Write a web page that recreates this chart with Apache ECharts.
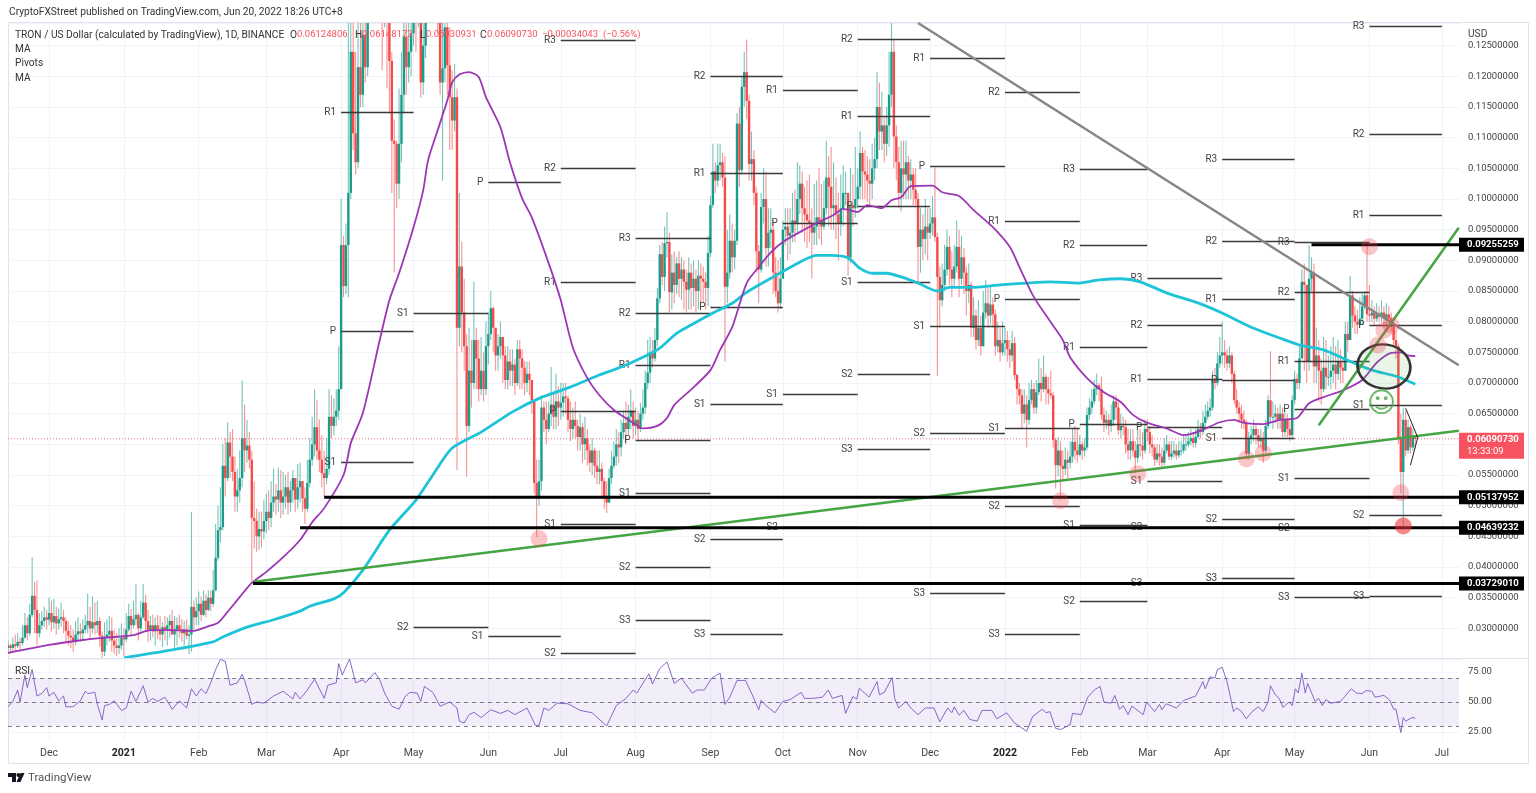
<!DOCTYPE html>
<html><head><meta charset="utf-8">
<style>html,body{margin:0;padding:0;background:#fff}#c{width:1536px;height:793px}</style>
<script src="https://cdn.jsdelivr.net/npm/echarts@6/dist/echarts.min.js"></script>
</head><body><div id="c"></div>
<script>
// Prices in units of 0.0001; one row per calendar month, Nov 14 2020 .. Jun 20 2022
const firstOpen = 268;
const closesByMonth = [
[272,268,274,271,278,276,285,305,292,322,353,330,292,305,312,318,314],
[325,310,320,308,315,318,312,296,288,285,278,290,295,292,298,305,312,300,310,305,312,288,262,285,290,296,280,272,268,272,285],
[282,298,320,305,315,322,300,318,342,312,298,305,295,305,298,290,302,298,305,312,290,298,305,298,292,298,288,290,335,318,328],
[340,322,345,330,350,340,362,415,460,465,565,545,603,580,555,515,525,545,610,590,598,575,480,475,450,462,458,475],
[490,480,505,515,510,525,505,515,530,505,525,545,510,530,540,512,495,537,575,600,628,590,575,553,545,560,645,630,645,655,690],
[925,858,925,1010,1240,1107,1060,1215,1170,1268,1215,1330,1400,1450,1520,1580,1480,1350,1420,1340,1225,1095,1090,1025,1090,1170,1265,1215,1240,1270],
[1350,1300,1400,1190,1250,1340,1420,1480,1460,1400,1290,1190,1213,1280,1218,1166,1128,1166,790,890,815,760,630,720,700,770,740,690,720,690,760],
[780,822,790,745,760,775,745,705,735,720,730,700,755,740,725,700,715,705,672,537,512,540,660,640,625,650,665,645,670,660],
[668,678,675,640,625,640,630,612,628,600,610,590,570,590,565,555,560,540,515,505,545,565,580,600,595,620,635,625,645,655,630],
[640,625,650,660,700,717,750,740,770,838,910,873,928,930,848,880,860,895,870,885,865,852,880,855,870,850,875,870,865,855,912],
[990,1045,1030,1055,1060,1035,857,880,932,905,932,1123,1047,1183,1207,1160,1057,1065,1010,915,885,987,1000,920,945,950,880,850,830,870],
[950,955,940,945,965,960,1000,1025,985,975,965,960,945,955,970,965,955,985,1035,1020,985,990,975,960,985,1010,1010,905,990,985,1000],
[1020,1075,1045,1040,1030,1025,1050,1065,1150,1110,1120,1090,1120,1170,1240,1102,1060,1010,1050,1040,1060,1030,1040,1015,1000,922,950,935,955,945],
[960,970,938,873,835,860,885,922,885,870,890,922,870,905,880,850,860,790,810,770,790,760,815,830,810,828,812,760,770,750,765],
[770,755,745,765,713,690,680,650,665,640,672,690,660,685,700,690,710,690,683,680,607,566,590,565,560,575,570,580,604,590,583],
[600,590,595,648,660,670,690,696,690,648,635,640,630,640,670,660,623,630,628,600,590,605,590,578,600,598,590,625],
[620,600,595,575,585,580,570,590,600,580,585,590,582,590,590,600,600,605,610,602,612,625,620,635,645,655,660,705,700,732,745],
[750,745,732,745,715,672,660,650,640,635,585,610,615,625,615,605,610,590,630,672,645,645,650,640,650,620,640,625,615,672],
[707,700,740,865,860,735,870,880,727,745,720,690,725,710,710,720,730,715,735,725,720,780,770,843,810,800,795,805,825,843,812],
[810,815,805,812,808,815,805,812,805,792,770,760,610,555,640,590,628,595,612.48,609.07]
];
const highsByMonth = [
[280,275,285,290,292,285,305,325,318,340,416,375,378,325,328,335,330],
[350,345,348,335,332,342,330,318,312,305,298,312,318,308,315,322,357,335,352,342,345,318,295,310,315,320,318,298,292,300,308],
[300,325,340,332,345,372,325,345,372,355,330,320,322,318,322,320,310,320,318,322,330,320,318,322,315,312,315,305,490,345,350],
[360,352,362,355,362,362,395,470,500,530,600,610,636,620,625,580,560,590,704,665,640,620,590,540,495,490,490,510],
[520,525,540,560,535,562,558,555,550,555,540,558,545,568,570,535,530,575,610,645,690,672,640,615,590,610,690,680,675,690,760],
[1000,940,960,1320,1400,1290,1240,1300,1290,1340,1300,1420,1480,1540,1600,1650,1600,1500,1500,1450,1380,1240,1130,1095,1180,1240,1320,1300,1310,1400],
[1450,1400,1460,1330,1340,1420,1500,1560,1540,1500,1420,1310,1290,1340,1320,1280,1210,1220,1180,1010,930,870,780,790,770,865,790,770,775,750,800],
[815,850,825,790,780,800,775,760,760,755,755,740,770,770,755,735,735,735,690,672,575,575,680,670,670,670,726,685,715,695],
[700,700,700,680,670,660,670,640,650,635,645,625,600,610,595,590,590,570,545,540,560,590,605,625,620,640,655,670,665,690,670],
[660,655,668,690,720,770,775,770,790,855,925,930,955,979,945,910,915,905,915,905,900,885,905,895,900,885,900,895,890,880,940],
[1005,1090,1060,1090,1090,1075,1070,950,975,960,950,1140,1150,1200,1240,1260,1170,1110,1080,1020,925,1010,1050,1045,985,985,965,905,900,905],
[965,985,985,985,1010,1015,1060,1055,1045,1020,1030,1040,985,1025,1030,1050,1025,1030,1095,1070,1085,1060,1035,1010,1040,1055,1045,1010,1050,1040,1085],
[1050,1110,1085,1080,1070,1065,1090,1100,1207,1190,1175,1135,1150,1240,1295,1260,1120,1085,1095,1095,1095,1070,1065,1050,1050,1010,985,975,1000,985],
[985,1005,1050,945,890,895,925,950,940,915,925,965,950,940,920,890,895,865,840,820,835,810,850,868,855,860,840,820,800,790,800],
[790,785,770,785,775,715,700,690,690,680,700,705,700,705,740,725,745,715,710,720,685,610,612,605,590,595,590,605,625,630,625],
[615,605,610,660,675,690,705,715,700,710,660,655,650,665,680,680,670,650,645,640,625,625,625,605,625,625,620,640],
[640,630,615,600,600,600,595,610,615,605,605,605,600,605,605,615,615,620,625,620,625,640,635,655,665,670,675,720,725,750,775],
[800,770,755,760,750,720,690,670,665,655,640,620,630,640,635,625,625,620,640,680,752,670,665,660,665,660,655,650,640,680],
[720,715,760,885,895,860,925,905,895,790,770,740,775,770,745,760,775,760,770,755,740,800,800,875,850,825,820,840,845,850,928],
[860,835,825,830,825,835,825,830,825,815,800,785,765,650,660,655,640,632,625,614.82]
];
const lowsByMonth = [
[262,258,262,262,268,265,272,282,280,288,318,292,272,285,298,302,298],
[305,295,300,290,298,302,292,278,272,268,262,272,280,278,280,292,292,282,292,290,292,270,240,255,272,278,262,258,255,258,265],
[255,278,295,288,300,305,280,295,315,295,278,280,285,272,282,280,270,280,272,285,292,265,272,285,278,272,282,258,262,298,305],
[305,312,320,318,328,328,335,360,410,440,460,515,540,545,540,490,490,505,530,555,570,560,374,430,425,428,432,445],
[455,460,465,490,485,490,480,485,495,485,490,505,490,495,505,490,470,490,530,565,580,575,555,530,513,535,550,610,615,630,640],
[690,840,845,840,1000,1080,1040,1050,1150,1150,1190,1200,1320,1380,1430,1500,1350,1210,1280,1180,1140,1010,880,985,1000,1060,1140,1170,1190,1200],
[1250,1240,1280,1165,1170,1230,1320,1400,1380,1330,1270,1170,1030,1190,1170,1080,1080,1110,558,760,750,720,547,620,660,690,690,670,680,670,680],
[730,770,750,720,720,740,700,690,690,695,695,680,695,690,690,680,685,680,650,520,449,500,525,620,600,620,630,625,625,630],
[640,645,650,620,605,610,610,590,590,570,575,565,555,550,545,535,535,510,495,488,505,535,560,565,570,580,610,600,615,625,610],
[615,605,620,640,650,690,700,725,735,760,830,860,850,905,815,820,830,845,840,835,820,815,820,820,825,815,820,830,830,820,825],
[905,985,1010,1020,1030,1020,735,830,870,880,885,925,1020,1040,1150,1130,1030,1030,990,880,830,880,960,890,890,920,845,840,815,820],
[870,925,900,910,930,930,945,975,945,930,920,930,870,925,925,935,925,950,975,955,950,950,935,900,940,955,990,875,895,955,970],
[985,1000,1000,1000,995,990,1000,1030,1050,1080,1080,1060,1070,1085,1150,1050,1030,985,980,1000,1000,1000,1000,990,990,860,880,900,910,900],
[935,940,930,712,790,825,850,875,860,840,855,880,840,860,845,810,830,775,775,755,760,745,760,805,790,795,790,745,750,735,745],
[745,735,725,735,705,665,665,625,635,595,632,665,650,650,680,670,685,665,665,675,595,528,548,510,540,550,545,560,570,575,570],
[580,575,580,590,640,650,665,680,670,640,620,625,615,620,630,640,615,610,615,585,575,575,580,553,570,580,575,585],
[605,585,580,565,570,565,560,565,585,575,575,578,575,578,582,585,590,595,598,595,595,610,610,615,630,640,645,655,690,695,725],
[730,725,720,725,700,665,650,635,625,625,575,575,600,605,600,595,595,570,585,625,635,625,635,625,625,612,612,612,605,610],
[665,690,690,740,720,700,720,850,700,700,670,665,685,690,695,690,700,690,705,700,700,720,750,770,790,780,780,790,795,820,800],
[800,800,795,800,800,800,790,795,795,785,760,740,600,520,465,580,585,585,590,593.09]
];
const monthLengths = [17,31,31,28,31,30,31,30,31,31,30,31,30,31,31,28,31,30,31,20];

// Moving averages: [days since 2020-12-01, price x 1e4]
const purpleMA = [[-17,260],[0,273],[14,281],[21,284],[35,289],[42,297],[51,297],[60,296],[65,302],[70,309],[74,327],[79,351],[84,374],[90,392],[97,416],[104,444],[109,473],[114,496],[122,550],[125,602],[130,651],[137,770],[141,835],[145,879],[151,954],[155,1014],[157,1063],[161,1112],[165,1161],[167,1190],[170,1203],[174,1207],[178,1199],[181,1166],[187,1117],[191,1059],[196,1001],[200,970],[207,895],[212,835],[217,758],[223,708],[228,680],[234,656],[242,635],[246,626],[252,630],[256,643],[259,664],[267,693],[274,721],[278,754],[283,791],[289,863],[294,889],[299,913],[304,930],[311,946],[318,961],[325,974],[329,984],[335,979],[339,990],[345,985],[349,998],[353,1003],[357,1021],[366,1022],[370,1011],[377,1005],[383,982],[391,954],[398,922],[402,889],[408,840],[415,799],[420,770],[423,742],[430,708],[437,685],[444,669],[449,648],[455,635],[463,626],[470,615],[477,622],[485,636],[491,640],[495,635],[503,633],[510,640],[517,643],[522,667],[528,677],[536,688],[544,705],[550,733],[556,749],[560,750],[563,745],[566,744]];
const cyanMA = [[31,252],[51,265],[68,278],[72,286],[82,302],[93,314],[104,328],[108,336],[118,348],[122,358],[130,395],[141,460],[152,509],[159,550],[167,594],[179,620],[192,653],[203,675],[215,692],[223,705],[228,713],[237,726],[246,742],[253,757],[260,781],[268,799],[275,814],[283,830],[289,848],[300,873],[311,897],[318,908],[324,908],[331,904],[336,887],[341,879],[347,879],[353,873],[360,863],[368,850],[373,856],[382,856],[394,860],[405,863],[415,865],[426,863],[435,868],[444,870],[452,865],[463,847],[477,829],[486,814],[498,791],[510,773],[518,762],[528,754],[538,737],[548,721],[558,711],[566,698]];

// Monthly pivots, Apr 2021 .. Jun 2022
const pivotMonths = ['2021-04','2021-05','2021-06','2021-07','2021-08','2021-09','2021-10','2021-11','2021-12','2022-01','2022-02','2022-03','2022-04','2022-05','2022-06','2022-07'];
const pivotR3 = [null,null,null,1259,936,null,null,null,null,null,1049,871,1065,930,1282];
const pivotR2 = [null,null,null,1050,814,1200,null,1261,null,1174,925,794,931,848,1106];
const pivotR1 = [1142,null,null,864,729,1042,1178,1135,1230,964,758,706,837,736,974];
const pivotP  = [785,null,1027,654,607,824,961,988,1054,837,633,628,705,658,794];
const pivotS1 = [571,814,288,470,521,666,682,864,793,627,468,540,610,545,664];
const pivotS2 = [null,302,null,260,400,446,465,714,618,499,345,465,478,463,485];
const pivotS3 = [null,null,null,null,314,290,null,592,358,290,null,374,382,351,353];

// Drawn levels and trend lines: [days, price x 1e4]
const greyTrend = [[360,1287],[584,729]];
const greenLong = [[85,376],[584,622]];
const greenSteep = [[526,631],[584,953]];
const arrowLine = [[562,659],[567,611],[564,566]];
const levelValues = [0.09255259,0.05137952,0.04639232,0.0372901];
const levelStarts = [523,114,104,84.5];
const lastPrice = 0.0609073;
const pinkDots = [[203,446],[419,508],[451,552],[496,576],[503,586],[547,922],[556,794],[553,786],[550.5,762],[560,521]];
const redDots = [[561,467]];
const ellipseAt = [553,727];
const smileAt = [552,665];

// RSI: [days, value]
const rsiLine = [[-17,46],[-15,50.5],[-13,60],[-12,50],[-10,72.5],[-9,62],[-7,77],[-5,55],[-3,57],[-1,62],[0,55],[2,58],[4,51],[6,55],[7,46],[10,46],[13,51],[15,59],[16,57],[19,58],[20,48],[22,35],[23,47],[25,48],[27,51],[30,43],[32,45],[34,59],[36,50.5],[39,63.5],[41,50],[43,53],[45,50.5],[48,54],[51,44],[54,51],[57,45],[59,61],[61,55],[63,61],[65,57],[67,66],[69,77],[71,85.5],[73,84],[75,64],[78,66],[80,73],[81,68],[84,48],[86,50],[89,49],[93,55],[97,59],[101,52.5],[102,58],[104,52.5],[107,60],[110,69],[114,53],[115.5,64],[119,66],[120,82],[121.5,72.5],[124.5,86],[127,66],[130,68.5],[131,66],[135,74.5],[137,68.5],[139,57.5],[142,46.5],[145,44],[147.5,54.5],[149.5,58],[152.5,57.5],[154,50.5],[155.5,63],[159,58],[161,50.5],[162,46.5],[166,50],[169,45],[170,34],[172,32.5],[174,39.5],[176,41.5],[179,37],[183,43.5],[187,40.5],[190,43],[193,39.5],[198,45],[201.5,30.5],[203,30.5],[205,45],[207,43],[210.5,49],[215,48.5],[220,43],[225,41],[231,30],[235,47],[239,53],[242,60],[243.5,57.5],[248.5,73.5],[250,65],[253,78],[256,83.5],[259,65.5],[262,70],[263.5,65.5],[266.5,57.5],[268.5,60],[271.5,60],[274.5,70],[278,74],[280,48],[282,54],[285,68],[288.5,68],[291,57.5],[294,43.5],[295,51.5],[297,47],[300.7,41],[304,50.5],[307,52],[311.6,58],[313,53],[316.3,53],[320.4,54],[322.8,60],[324.5,53],[328.5,55.5],[330,40.5],[333,54.5],[334.6,52.5],[335.7,61.5],[339.7,54],[343,67],[344,56],[346,58],[349.3,70.5],[350.3,53],[352,45],[355,50.5],[357,45],[360,39.5],[363,45],[366.6,45],[369,33.5],[372.3,45],[374,41],[375,46],[377,39],[379,43],[381.4,35.5],[384.5,34],[386.5,43],[390.6,43],[392.6,36],[396.7,41],[400,32.5],[405,25.5],[407.5,38],[411.5,44],[413,41],[414.6,42],[417,28],[419,27],[423,31],[424,40.5],[427.6,39.5],[430.3,54],[433,60],[435.4,63],[437,50],[440,49],[441.5,55.5],[443.5,44],[445,47],[447,39.5],[448.6,46.5],[453.3,39.5],[454.7,50],[458,42],[460,48],[461,43.5],[462.8,48.5],[467,45],[470.3,51.5],[475,55],[478,67],[479,61],[481,71],[483,70],[484,77],[486,79],[488,67],[490.7,42],[492,45],[494,42],[496,36],[498.4,42],[500.9,46],[503,42],[505,50],[506,63.5],[508,56],[509.6,53],[511.2,45.5],[513.7,50],[515,47],[516.3,61],[517.5,57.5],[519,74],[520.4,57.5],[521.4,65.5],[524.5,50.5],[526,53],[527.5,47],[529,52],[531,49],[535,50.5],[539.5,61],[541.6,57.5],[544,57],[545.6,59.5],[548,59],[549.3,54],[553,55.5],[555.4,51.5],[557,44],[558,44],[560,24.5],[561,37],[562,34],[564.6,37],[566,36.5]];

const monthTicks = ['2020-12-01','2021-01-01','2021-02-01','2021-03-01','2021-04-01','2021-05-01','2021-06-01','2021-07-01','2021-08-01','2021-09-01','2021-10-01','2021-11-01','2021-12-01','2022-01-01','2022-02-01','2022-03-01','2022-04-01','2022-05-01','2022-06-01','2022-07-01'];
const monthNames = ['2021','Feb','Mar','Apr','May','Jun','Jul','Aug','Sep','Oct','Nov','Dec'];

// ---- build (x axis is a numeric count of days since 2020-12-01)
const DAY = 86400000, T0 = Date.UTC(2020,11,1);
const dayOf = s => (Date.parse(s+'T00:00:00Z')-T0)/DAY;
const XMIN=-17, XMAX=584.1;
monthLengths.forEach((n,i)=>{
  if(closesByMonth[i].length!==n) throw new Error('closes month '+i+' has '+closesByMonth[i].length);
  if(highsByMonth[i].length!==n) throw new Error('highs month '+i+' has '+highsByMonth[i].length);
  if(lowsByMonth[i].length!==n) throw new Error('lows month '+i+' has '+lowsByMonth[i].length);
});
const closes = closesByMonth.flat(), highs = highsByMonth.flat(), lows = lowsByMonth.flat();
const candles = closes.map((c,i)=>{
  const o = i? closes[i-1] : firstOpen;
  return [i-17, o/1e4, c/1e4, Math.min(lows[i],o,c)/1e4, Math.max(highs[i],o,c)/1e4];
});
const toLine = a => a.map(p=>[p[0],p[1]/1e4]);
const UP='#1a9c8b', DOWN='#f44a4a', FONT='Roboto, "Liberation Sans", sans-serif';

const pivotData=[];
[['R3',pivotR3],['R2',pivotR2],['R1',pivotR1],['P',pivotP],['S1',pivotS1],['S2',pivotS2],['S3',pivotS3]].forEach(([name,arr])=>{
  arr.forEach((v,i)=>{ if(v!=null) pivotData.push([dayOf(pivotMonths[i]+'-01'),dayOf(pivotMonths[i+1]+'-01'),v/1e4,name]); });
});
const tickValues = monthTicks.map(dayOf);

const grid=[{left:8,right:77,top:23,height:636},{left:8,right:77,top:658,height:82}];
const lineS=(name,data,color,width,z,extra)=>Object.assign({name,type:'line',data,showSymbol:false,symbol:'none',xAxisIndex:0,yAxisIndex:0,
  lineStyle:{color,width},silent:true,z,animation:false},extra||{});

const series=[
 lineS('Last',[[XMIN,lastPrice],[XMAX,lastPrice]],'#f7525f',1,2,{lineStyle:{color:'#f7525f',width:1,type:[1,2],opacity:.8}}),
 {type:'custom',name:'TRON / US Dollar',xAxisIndex:0,yAxisIndex:0,z:3,animation:false,silent:true,clip:true,
  encode:{x:0,y:[1,2,3,4]},data:candles,
  renderItem(p,api){
    const x=api.coord([api.value(0),0.05])[0], o=api.coord([0,api.value(1)])[1], c=api.coord([0,api.value(2)])[1],
      l=api.coord([0,api.value(3)])[1], h=api.coord([0,api.value(4)])[1];
    const col=api.value(2)>=api.value(1)?UP:DOWN;
    const top=Math.min(o,c), ht=Math.max(Math.abs(o-c),1);
    return {type:'group',children:[
      {type:'line',shape:{x1:x,y1:h,x2:x,y2:l},style:{stroke:col,lineWidth:1.1,opacity:.6}},
      {type:'rect',shape:{x:x-1.2,y:top,width:2.4,height:ht},style:{fill:col}}
    ]};
  }},
 {type:'custom',name:'Pivots',xAxisIndex:0,yAxisIndex:0,z:4,animation:false,silent:true,clip:false,
  encode:{x:[0,1],y:2},data:pivotData,
  renderItem(p,api){
    const a=api.coord([api.value(0),api.value(2)]), b=api.coord([api.value(1),api.value(2)]);
    const y=Math.round(a[1])+.5;
    return {type:'group',children:[
      {type:'line',shape:{x1:a[0],y1:y,x2:b[0],y2:y},style:{stroke:'#3a3a3a',lineWidth:1.3}},
      {type:'text',style:{text:pivotData[p.dataIndex][3],x:a[0]-5,y:y,align:'right',verticalAlign:'middle',fill:'#444',font:'10px '+FONT}}
    ]};
  }},
 lineS('MA long',toLine(cyanMA),'#1ec3d8',2.8,5,{smooth:0.25}),
 lineS('MA short',toLine(purpleMA),'#9c36b5',1.8,6,{smooth:0.25}),
 lineS('Trend grey',toLine(greyTrend),'#868686',2.5,7),
 lineS('Trend green',toLine(greenLong),'#45a545',2.5,7),
 lineS('Trend steep',toLine(greenSteep),'#45a545',2.5,7),
 lineS('Arrow',toLine(arrowLine),'#222',1,9),
 ...levelValues.map((v,i)=>lineS('Level '+v,[[levelStarts[i],v],[XMAX,v]],'#000',3,8)),
 {type:'scatter',name:'Touches',xAxisIndex:0,yAxisIndex:0,z:10,silent:true,animation:false,symbolSize:17,
  data:pinkDots.map(p=>[p[0],p[1]/1e4]),itemStyle:{color:'rgba(242,70,80,.38)'}},
 {type:'scatter',name:'Low',xAxisIndex:0,yAxisIndex:0,z:10,silent:true,animation:false,symbolSize:17,
  data:redDots.map(p=>[p[0],p[1]/1e4]),itemStyle:{color:'rgba(238,45,50,.72)'}},
 {type:'scatter',name:'Ellipse',xAxisIndex:0,yAxisIndex:0,z:9,silent:true,animation:false,symbolSize:[53,44],symbolRotate:-8,
  data:[[ellipseAt[0],ellipseAt[1]/1e4]],itemStyle:{color:'rgba(76,175,80,.13)',borderColor:'#333',borderWidth:2.5,opacity:1}},
 {type:'scatter',name:'Smile',xAxisIndex:0,yAxisIndex:0,z:10,silent:true,animation:false,symbolSize:1,
  data:[[smileAt[0],smileAt[1]/1e4]],itemStyle:{color:'transparent'},
  label:{show:true,position:'inside',formatter:'\u263A',color:'#45a545',fontSize:28,fontFamily:'"DejaVu Sans"'}},
 {type:'custom',name:'Tags',xAxisIndex:0,yAxisIndex:0,z:20,animation:false,silent:true,clip:false,
  encode:{x:0,y:1},data:levelValues.map(v=>[0,v]).concat([[0,lastPrice]]),
  renderItem(p,api){
    const v=api.value(1), y=api.coord([api.value(0),v])[1], X=p.coordSys.x+p.coordSys.width;
    if(v===lastPrice) return {type:'group',children:[
      {type:'rect',shape:{x:X,y:y-6,width:65,height:26},style:{fill:'#f7525f'}},
      {type:'text',style:{text:v.toFixed(8),x:X+8,y:y+1,verticalAlign:'middle',fill:'#fff',font:'bold 9.5px '+FONT}},
      {type:'text',style:{text:'13:33:09',x:X+8,y:y+13,verticalAlign:'middle',fill:'#fff',font:'9.5px '+FONT}}
    ]};
    return {type:'group',children:[
      {type:'rect',shape:{x:X,y:y-7,width:65,height:14},style:{fill:'#000'}},
      {type:'text',style:{text:v.toFixed(8),x:X+8,y:y,verticalAlign:'middle',fill:'#fff',font:'bold 9.5px '+FONT}}
    ]};
  }},
 {type:'line',name:'RSI',xAxisIndex:1,yAxisIndex:1,data:rsiLine,showSymbol:false,symbol:'none',silent:true,z:5,animation:false,
  lineStyle:{color:'#7e57c2',width:1,opacity:.9},
  markArea:{silent:true,itemStyle:{color:'rgba(126,87,194,.1)'},data:[[{yAxis:30},{yAxis:70}]]},
  markLine:{silent:true,symbol:'none',label:{show:false},animation:false,lineStyle:{color:'#787b86',width:1,type:[4,4]},data:[{yAxis:70},{yAxis:50},{yAxis:30}]}}
];

const gridLine={show:true,lineStyle:{color:'#f0f3fa',width:1}};
const T=(text,x,y,fill,size)=>({type:'text',silent:true,z:30,style:{text,x,y,fill:fill||'#333',font:(size||10.2)+'px '+FONT,verticalAlign:'middle'}});
const RED='#f7525f';
const option={
 animation:false,backgroundColor:'#fff',grid,
 xAxis:[
  {type:'value',gridIndex:0,min:XMIN,max:XMAX,axisLine:{show:false},axisTick:{show:false,customValues:tickValues},axisLabel:{show:false,customValues:tickValues},splitLine:gridLine},
  {type:'value',gridIndex:1,min:XMIN,max:XMAX,axisLine:{show:false},axisTick:{show:false,customValues:tickValues},splitLine:gridLine,
   axisLabel:{customValues:tickValues,margin:8,fontSize:10.5,fontFamily:FONT,color:'#444',hideOverlap:false,
    formatter:v=>{const d=new Date(T0+Math.round(v)*DAY),m=d.getUTCMonth();return m===0?'{y|'+d.getUTCFullYear()+'}':monthNames[m];},
    rich:{y:{fontWeight:'bold',fontSize:10.5,color:'#222',fontFamily:FONT}}}}
 ],
 yAxis:[
  {type:'value',gridIndex:0,position:'right',min:0.025,max:0.1287,interval:0.005,axisLine:{show:false},axisTick:{show:false},splitLine:gridLine,
   axisLabel:{margin:9,fontSize:9.5,padding:[2,0,0,0],fontFamily:FONT,color:'#444',showMinLabel:false,showMaxLabel:false,formatter:v=>v.toFixed(8)}},
  {type:'value',gridIndex:1,position:'right',min:18.3,max:86.7,axisLine:{show:false},axisTick:{show:false,customValues:[25,50,75]},splitLine:gridLine,
   axisLabel:{customValues:[25,50,75],margin:9,fontSize:9.5,padding:[2,0,0,0],fontFamily:FONT,color:'#444',formatter:v=>v.toFixed(2)}}
 ],
 series,
 graphic:{elements:[
  {type:'rect',silent:true,z:-1,shape:{x:8.5,y:22.5,width:1520,height:741},style:{fill:'none',stroke:'#e0e3eb',lineWidth:1}},
  {type:'line',silent:true,z:25,shape:{x1:8,y1:658.5,x2:1529,y2:658.5},style:{stroke:'#e0e3eb',lineWidth:1}},
  T('CryptoFXStreet published on TradingView.com, Jun 20, 2022 18:26 UTC+8',9,12),
  T('TRON / US Dollar (calculated by TradingView), 1D, BINANCE',15,35),
  T('O',290,35,'#333'),T('0.06124806',297,35,RED,9.5),
  T('H',355,35,'#333'),T('0.06148173',362,35,RED,9.5),
  T('L',420,35,'#333'),T('0.05930931',426,35,RED,9.5),
  T('C',480,35,'#333'),T('0.06090730',487,35,RED,9.5),
  T('\u22120.00034043',542,35,RED,9.5),T('(\u22120.56%)',603,35,RED,9.5),
  T('MA',15,49),T('Pivots',15,63),T('MA',15,78),T('RSI',15,671),
  T('USD',1468,34,'#444'),
  {type:'polygon',silent:true,z:30,shape:{points:[[8,773],[16,773],[16,782],[12,782],[12,777],[8,777]]},style:{fill:'#131722'}},
  {type:'circle',silent:true,z:30,shape:{cx:18.3,cy:775,r:1.9},style:{fill:'#131722'}},
  {type:'polygon',silent:true,z:30,shape:{points:[[20.5,773],[24.5,773],[20.5,782],[16.5,782]]},style:{fill:'#131722'}},
  T('TradingView',28,778,'#555',11.5)
 ]}
};
const chart=echarts.init(document.getElementById('c'),null,{renderer:'canvas',width:1536,height:793});
chart.setOption(option);
</script></body></html>
